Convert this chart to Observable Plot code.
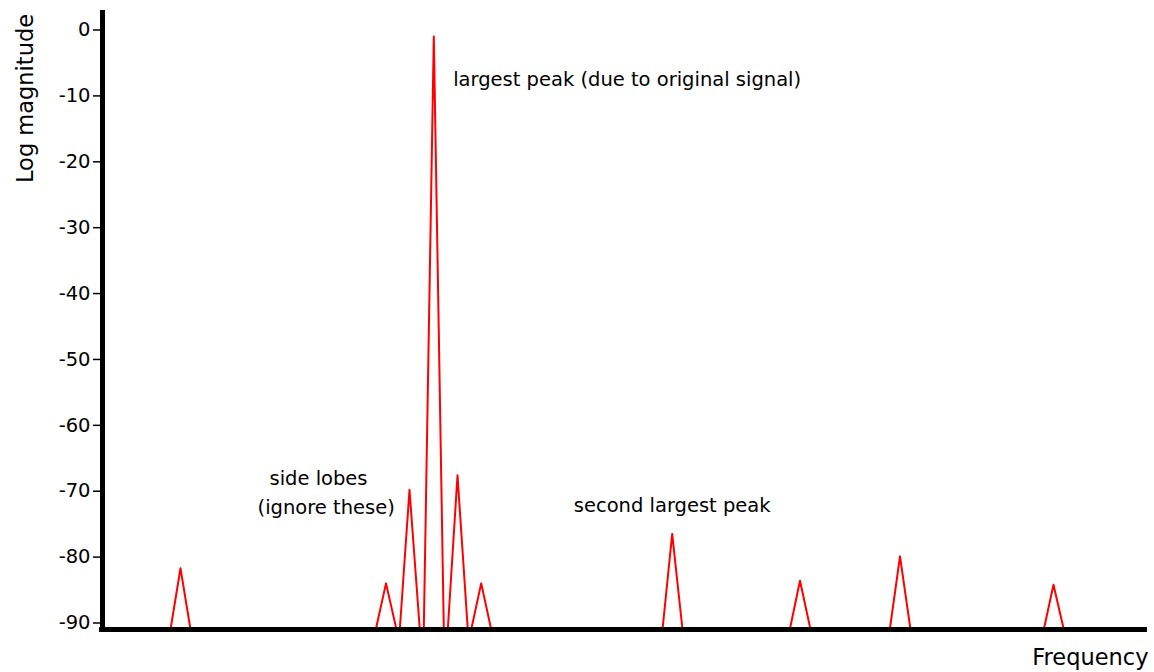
<!DOCTYPE html>
<html>
<head>
<meta charset="utf-8">
<script src="https://cdn.jsdelivr.net/npm/d3@7"></script>
<script src="https://cdn.jsdelivr.net/npm/@observablehq/plot@0.6"></script>
<style>
  html, body { margin: 0; padding: 0; background: #fff; }
  #chart svg { display: block; }
</style>
</head>
<body>
<div id="chart"></div>
<script>
// Peak data (frequency in arbitrary units, level in dB)
const peakFreq  = [78, 283.5, 307, 331.3, 355, 378.7, 569.7, 697.5, 797.5, 951];
const peakLevel = [-80.7, -83, -68.8, 0, -66.6, -83, -75.5, -82.6, -78.9, -83.2];
const peakLow   = [68, 273.3, 297.3, 321.3, 345.3, 368.7, 560, 687.3, 787.3, 941.3];
const peakHigh  = [88, 294, 317.3, 341.3, 365.3, 388.7, 580, 708, 808, 961.3];
const floorLevel = -90;

const yTicks = [0, -10, -20, -30, -40, -50, -60, -70, -80, -90];

const startNotes = [
  {text: "largest peak (due to original signal)", f: 350.7, level: -7.44},
  {text: "second largest peak", f: 471.3, level: -72.2}
];
const middleNotes = [
  {text: "side lobes", f: 216, level: -68.04},
  {text: "(ignore these)", f: 223.7, level: -72.47}
];

const pts = [];
peakFreq.forEach((f, i) => {
  pts.push({peak: i, f: peakLow[i], level: floorLevel});
  pts.push({peak: i, f: f, level: peakLevel[i]});
  pts.push({peak: i, f: peakHigh[i], level: floorLevel});
});

const chart = Plot.plot({
  width: 1154,
  height: 672,
  marginLeft: 102,
  marginRight: 7,
  marginTop: 10,
  marginBottom: 43,
  style: {fontFamily: "DejaVu Sans", fontSize: "19.5px", color: "#000", background: "#fff"},
  x: {domain: [0, 1045], axis: null},
  y: {domain: [-90, 3.95]},
  marks: [
    Plot.axisY({ticks: yTicks, tickSize: 9, tickPadding: 3, label: null, fontSize: 19.5, dy: -6.5, strokeWidth: 1.5, tickFormat: d => String(d).replace("−", "-")}),
    Plot.line(pts, {x: "f", y: "level", z: "peak", stroke: "#ff0000", strokeWidth: 2, curve: "linear"}),
    Plot.ruleX([0], {y1: -90, y2: 3.95, stroke: "#000", strokeWidth: 5}),
    Plot.ruleY([floorLevel], {x1: -3, x2: 1045, stroke: "#000", strokeWidth: 5}),
    Plot.text(startNotes, {x: "f", y: "level", text: "text", textAnchor: "start", lineAnchor: "bottom", fontSize: 19.5, fill: "#000"}),
    Plot.text(middleNotes, {x: "f", y: "level", text: "text", textAnchor: "middle", lineAnchor: "bottom", fontSize: 19.5, fill: "#000"}),
    Plot.text(["Log magnitude"], {frameAnchor: "top-left", rotate: -90, dx: -77, dy: 88, textAnchor: "middle", lineAnchor: "middle", fontSize: 22.5, fill: "#000"}),
    Plot.text(["Frequency"], {frameAnchor: "bottom-right", dx: 1, dy: 35, textAnchor: "end", lineAnchor: "bottom", fontSize: 22.5, fill: "#000"})
  ]
});
document.getElementById("chart").appendChild(chart);
</script>
</body>
</html>
